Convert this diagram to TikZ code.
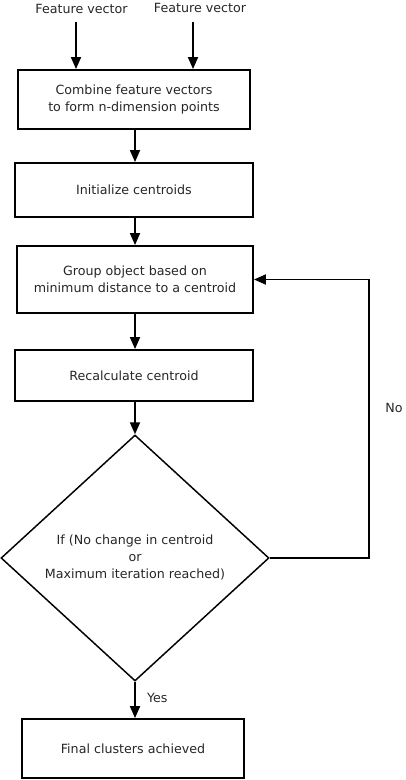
\documentclass[tikz,border=0pt]{standalone}
\usepackage{fontspec}
\setmainfont{DejaVu Sans}
\usetikzlibrary{shapes.geometric,arrows.meta}

\begin{document}
\begin{tikzpicture}[x=0.75pt,y=-0.75pt,
  every node/.style={font=\fontsize{9.5}{12.75}\selectfont,text=black!85,align=center},
  box/.style={draw,line width=1.4pt,rectangle,inner sep=0pt},
  test/.style={draw,line width=1.1pt,diamond,inner sep=0pt,minimum width=201pt,minimum height=184.5pt},
  arr/.style={line width=1.4pt,-{Triangle[width=7.5pt,length=9pt]}}]
\useasboundingbox (0,0) rectangle (405,780);
\node (fv1) at (81.5,9) {Feature vector};
\node (fv2) at (200,8) {Feature vector};
\coordinate (in1) at (76,22);
\coordinate (in2) at (193,22);
\node[box,minimum width=174pt,minimum height=44.25pt] (comb) at (134,99.5) {Combine feature vectors\\to form n-dimension points};
\node[box,minimum width=178.5pt,minimum height=40.5pt] (init) at (134,190) {Initialize centroids};
\node[box,minimum width=177pt,minimum height=50.25pt] (group) at (135,279.5) {Group object based on\\minimum distance to a centroid};
\node[box,minimum width=178.5pt,minimum height=38.25pt] (recalc) at (134,375.5) {Recalculate centroid};
\node[test] (stop) at (135,558) {If (No change in centroid\\or\\Maximum iteration reached)};
\node[box,minimum width=166.5pt,minimum height=44.25pt] (final) at (133,748.5) {Final clusters achieved};
\node (no) at (394,408) {No};
\draw[arr] (in1) -- (in1 |- comb.north);
\draw[arr] (in2) -- (in2 |- comb.north);
\draw[arr] (stop.north |- comb.south) -- (stop.north |- init.north);
\draw[arr] (stop.north |- init.south) -- (stop.north |- group.north);
\draw[arr] (stop.north |- group.south) -- (stop.north |- recalc.north);
\draw[arr] (stop.north |- recalc.south) -- (stop.north);
\draw[arr] (stop.south) -- (stop.south |- final.north) node[pos=0.45,right=5pt] (yes) {Yes};
\draw[arr] (stop.east) -- ++(99,0) |- (group.east);
%\draw (0,0) rectangle (405,780);

\end{tikzpicture}
\end{document}
